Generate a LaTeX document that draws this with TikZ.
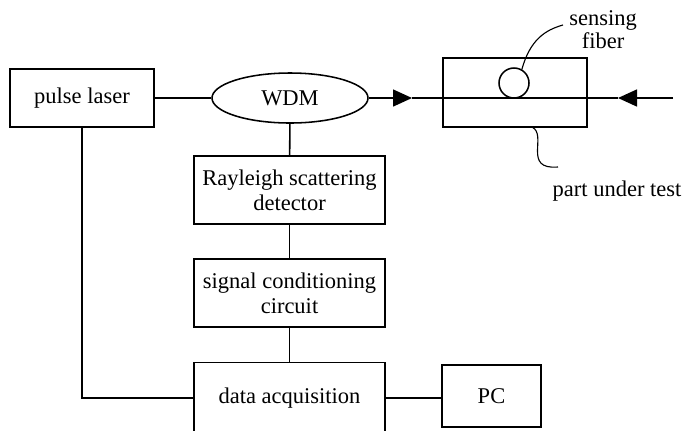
\documentclass[tikz,border=0pt]{standalone}
\usepackage{fontspec}
\setmainfont{Liberation Serif}
\usetikzlibrary{positioning, calc, arrows.meta, shapes}
\tikzset{>=latex}
\def\px{0.025cm}
\tikzset{
    block/.style={draw, line width=1.1pt, rectangle, align=center, inner sep=0pt,
        font=\fontsize{16}{17.7}\selectfont},
    mark tip/.style={-{Triangle[length=19*\px, width=17*\px]}},
}

\begin{document}
\begin{tikzpicture}[x=\px, y=-\px, line width=1.1pt]
    \useasboundingbox (0,0) rectangle (690,430);
    \node[block, minimum width=144*\px, minimum height=58*\px] (laser) at (82,98) {pulse laser};
    \node[block, ellipse, minimum width=156*\px, minimum height=50*\px] (wdm) at (290,98) {WDM};
    \node[block, minimum width=144*\px, minimum height=69*\px] (part) at (515,92.5) {};
    \node[draw, circle, minimum size=30*\px, inner sep=0pt] (fib) at (514,83) {};
    \node[block, minimum width=191*\px, minimum height=68*\px] (ray) at (289.5,190) {Rayleigh scattering\\detector};
    \node[block, minimum width=191*\px, minimum height=68*\px] (sig) at (289.5,293) {signal conditioning\\circuit};
    \node[block, minimum width=191*\px, minimum height=71*\px] (daq) at (289.5,398) {data acquisition};
    \node[block, minimum width=99*\px, minimum height=62*\px] (pc) at (491.5,396) {PC};
    \node[font=\fontsize{16}{16.3}\selectfont, align=center] (fibtxt) at (603,30) {sensing\\fiber};
    \node[font=\fontsize{16}{17.7}\selectfont] (parttxt) at (617,191) {part under test};
    \coordinate (arrR) at (412,98);
    \coordinate (arrL) at (618,98);
    \coordinate (rend) at (673,98);
    % connections
    \draw (laser) -- (wdm);
    \draw[mark tip] (wdm.east) -- (arrR);
    \draw (arrR) -- (arrL);
    \draw[mark tip] (rend) -- (arrL);
    \draw (wdm) -- (ray);
    \draw (ray) -- (sig);
    \draw (sig) -- (daq);
    \draw (laser.south) |- (daq.west);
    \draw (daq.east) -- (daq.east -| pc.west);
    % leaders
    \draw[line width=0.8pt] (fib.60) .. controls (530,40) and (545,30) .. (563,25);
    \draw[line width=0.8pt] (532,127) .. controls (548,135) and (522,170) .. (558,167);
\end{tikzpicture}
\end{document}
